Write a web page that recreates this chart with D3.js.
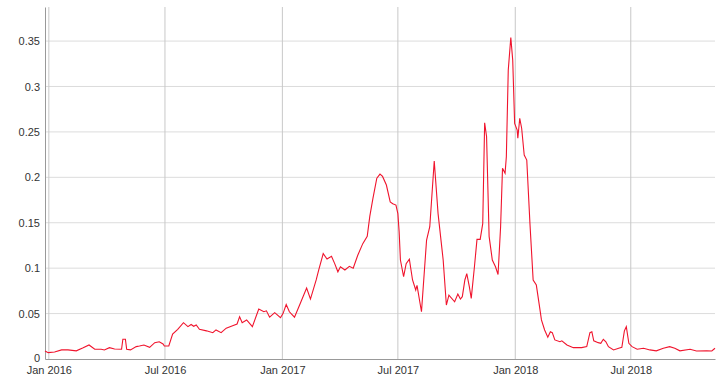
<!DOCTYPE html>
<html>
<head>
<meta charset="utf-8">
<script src="https://cdn.jsdelivr.net/npm/d3@7"></script>
<style>
  body { margin: 0; background: #fff; }
  svg { display: block; font-family: "Open Sans", "Noto Sans", sans-serif; }
  .tick text { fill: #333; font-size: 11px; }
</style>
</head>
<body>
<svg id="chart" width="720" height="380"></svg>
<script>
// values
const dates = [
  "2015-12-26","2015-12-31","2016-01-10","2016-01-21","2016-01-31","2016-02-13","2016-02-23","2016-03-04",
  "2016-03-13","2016-03-23","2016-03-28","2016-04-05","2016-04-13","2016-04-24","2016-04-26","2016-04-30",
  "2016-05-02","2016-05-08","2016-05-17","2016-05-22","2016-05-29","2016-06-07","2016-06-15","2016-06-22",
  "2016-06-28","2016-06-30","2016-07-07","2016-07-13","2016-07-21","2016-07-30","2016-08-06","2016-08-11",
  "2016-08-15","2016-08-19","2016-08-24","2016-09-04","2016-09-14","2016-09-19","2016-09-27","2016-10-05",
  "2016-10-15","2016-10-22","2016-10-26","2016-10-30","2016-11-06","2016-11-15","2016-11-25","2016-12-03",
  "2016-12-07","2016-12-12","2016-12-20","2016-12-29","2017-01-02","2017-01-07","2017-01-12","2017-01-20",
  "2017-01-29","2017-02-08","2017-02-14","2017-02-23","2017-02-27","2017-03-06","2017-03-12","2017-03-19",
  "2017-03-24","2017-03-29","2017-04-02","2017-04-09","2017-04-16","2017-04-22","2017-04-29","2017-05-07",
  "2017-05-14","2017-05-18","2017-05-23","2017-05-29","2017-06-03","2017-06-07","2017-06-13","2017-06-19",
  "2017-06-23","2017-06-28","2017-07-01","2017-07-03","2017-07-05","2017-07-10","2017-07-14","2017-07-19",
  "2017-07-24","2017-07-29","2017-07-31","2017-08-07","2017-08-15","2017-08-20","2017-08-27","2017-09-02",
  "2017-09-10","2017-09-15","2017-09-19","2017-09-28","2017-10-03","2017-10-07","2017-10-10","2017-10-14",
  "2017-10-17","2017-10-21","2017-10-24","2017-10-29","2017-11-02","2017-11-07","2017-11-11","2017-11-14",
  "2017-11-17","2017-11-21","2017-11-26","2017-12-01","2017-12-05","2017-12-09","2017-12-12","2017-12-16",
  "2017-12-18","2017-12-21","2017-12-25","2017-12-28","2017-12-31","2018-01-04","2018-01-05","2018-01-08",
  "2018-01-11","2018-01-15","2018-01-19","2018-01-24","2018-01-29","2018-02-03","2018-02-08","2018-02-11",
  "2018-02-16","2018-02-21","2018-02-25","2018-02-28","2018-03-04","2018-03-12","2018-03-15","2018-03-23",
  "2018-04-02","2018-04-15","2018-04-23","2018-04-28","2018-05-01","2018-05-04","2018-05-11","2018-05-15",
  "2018-05-19","2018-05-23","2018-05-27","2018-06-04","2018-06-12","2018-06-17","2018-06-21","2018-06-24",
  "2018-06-28","2018-07-03","2018-07-11","2018-07-21","2018-07-31","2018-08-10","2018-08-21","2018-08-31",
  "2018-09-08","2018-09-16","2018-10-02","2018-10-12","2018-10-28","2018-11-05","2018-11-10"
];
const values = [
  0.0088,0.007,0.0077,0.010,0.010,0.009,0.012,0.0154,
  0.0107,0.0107,0.010,0.0125,0.011,0.0107,0.0217,0.0217,
  0.0107,0.010,0.0136,0.0143,0.0154,0.0128,0.018,0.019,
  0.0165,0.0143,0.0143,0.0275,0.0327,0.040,0.0356,0.038,
  0.036,0.0374,0.0327,0.031,0.029,0.032,0.029,0.034,
  0.0367,0.0385,0.0466,0.040,0.043,0.0356,0.055,0.052,
  0.053,0.046,0.051,0.0455,0.050,0.060,0.052,0.046,
  0.061,0.078,0.066,0.087,0.098,0.116,0.110,0.113,
  0.105,0.096,0.1015,0.098,0.102,0.100,0.114,0.127,
  0.135,0.157,0.177,0.199,0.2036,0.201,0.1915,0.173,
  0.171,0.1695,0.160,0.140,0.109,0.0906,0.105,0.110,
  0.087,0.076,0.081,0.052,0.131,0.1456,0.218,0.160,
  0.109,0.0594,0.0704,0.063,0.0715,0.066,0.0686,0.087,
  0.094,0.0796,0.0668,0.1016,0.1317,0.1317,0.149,0.260,
  0.245,0.135,0.109,0.1016,0.093,0.1456,0.210,0.2044,
  0.2227,0.318,0.354,0.329,0.2594,0.252,0.243,0.265,
  0.254,0.2245,0.219,0.149,0.087,0.0814,0.0576,0.043,
  0.032,0.024,0.030,0.029,0.021,0.019,0.020,0.0154,
  0.0125,0.0125,0.0136,0.029,0.030,0.020,0.018,0.0173,
  0.0217,0.019,0.0136,0.010,0.0118,0.0128,0.031,0.0356,
  0.0173,0.0136,0.0107,0.0118,0.010,0.009,0.0118,0.0136,
  0.0118,0.009,0.0107,0.0088,0.009,0.0088,0.0118
];
const yTicks = [0, 0.05, 0.1, 0.15, 0.2, 0.25, 0.3, 0.35];
const xTicks = ["2016-01-01","2016-07-01","2017-01-01","2017-07-01","2018-01-01","2018-07-01"];

const parse = d3.timeParse("%Y-%m-%d");
const data = dates.map((d, i) => ({ date: parse(d), value: values[i] }));

const svg = d3.select("#chart");
const margin = { top: 7, right: 5, bottom: 21, left: 45 };
const width = 720 - margin.left - margin.right,
      height = 380 - margin.top - margin.bottom;

const x = d3.scaleTime()
    .domain([parse("2015-12-26"), parse("2018-11-10")])
    .range([0, width]);
const y = d3.scaleLinear()
    .domain([0, 0.3875])
    .range([height, 0]);

const g = svg.append("g")
    .attr("transform", "translate(" + margin.left + "," + margin.top + ")");

// horizontal grid
g.append("g")
    .selectAll("line")
    .data(yTicks.slice(1))
    .enter().append("line")
    .attr("x1", 0).attr("x2", width)
    .attr("y1", d => y(d)).attr("y2", d => y(d))
    .attr("stroke", "#dcdcdc");

// vertical grid
g.append("g")
    .selectAll("line")
    .data(xTicks.map(parse))
    .enter().append("line")
    .attr("x1", d => x(d)).attr("x2", d => x(d))
    .attr("y1", 0).attr("y2", height)
    .attr("stroke", "#c8c8c8");

// axes
const yAxis = g.append("g")
    .call(d3.axisLeft(y).tickValues(yTicks).tickSize(0).tickPadding(5)
      .tickFormat(d => d === 0 ? "0" : d3.format("")(+d.toFixed(2))));
yAxis.select(".domain").attr("stroke", "#999");
yAxis.selectAll(".tick text").attr("dy", d => d === 0 ? "0.2em" : "0.32em");

const xAxis = g.append("g")
    .attr("transform", "translate(0," + height + ")")
    .call(d3.axisBottom(x).tickValues(xTicks.map(parse)).tickSize(0).tickPadding(7)
      .tickFormat(d3.timeFormat("%b %Y")));
xAxis.select(".domain").attr("stroke", "#999");

// series
const line = d3.line()
    .x(d => x(d.date))
    .y(d => y(d.value));

g.append("path")
    .datum(data)
    .attr("fill", "none")
    .attr("stroke", "#f0142d")
    .attr("stroke-width", 1.1)
    .attr("d", line);
</script>
</body>
</html>
